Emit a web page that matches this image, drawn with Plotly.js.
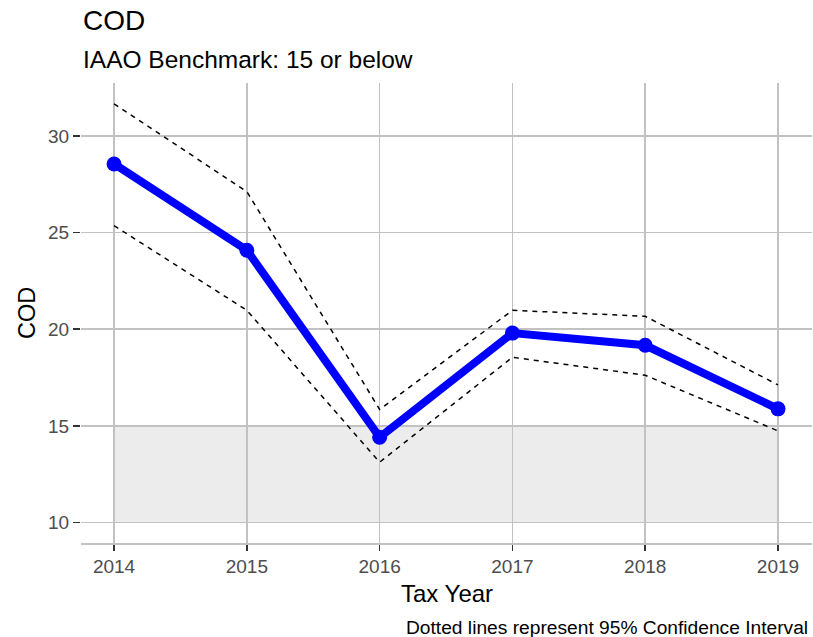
<!DOCTYPE html>
<html>
<head>
<meta charset="utf-8">
<script src="https://cdn.plot.ly/plotly-3.0.1.min.js"></script>
<style>html,body{margin:0;padding:0;background:#fff;}#chart{width:813px;height:637px;}</style>
</head>
<body>
<div id="chart"></div>
<script>
const years = [2014, 2015, 2016, 2017, 2018, 2019];
const cod = [28.55, 24.09, 14.41, 19.8, 19.17, 15.88];
const upperCI = [31.66, 27.12, 15.85, 20.98, 20.67, 17.12];
const lowerCI = [25.36, 20.98, 13.12, 18.55, 17.62, 14.74];
const benchmarkLow = 10;
const benchmarkHigh = 15;
const yTicks = [10, 15, 20, 25, 30];

const font = "Liberation Sans, Arial, sans-serif";

const traces = [
  {x: years, y: upperCI, mode: "lines", line: {color: "#000", width: 1.5, dash: "5px,5px"}, hoverinfo: "skip", showlegend: false},
  {x: years, y: lowerCI, mode: "lines", line: {color: "#000", width: 1.5, dash: "5px,5px"}, hoverinfo: "skip", showlegend: false},
  {x: years, y: cod, mode: "lines+markers", line: {color: "#0000ff", width: 8}, marker: {color: "#0000ff", size: 15}, showlegend: false}
];

const layout = {
  width: 813, height: 637,
  margin: {l: 81, r: 1, t: 83, b: 94},
  paper_bgcolor: "#fff", plot_bgcolor: "#fff",
  font: {family: font},
  showlegend: false,
  xaxis: {
    range: [2013.751, 2019.256], tickvals: years, ticktext: years.map(String),
    showgrid: true, gridcolor: "#c2c2c2", gridwidth: 1.5, zeroline: false,
    showline: true, linecolor: "#c2c2c2", linewidth: 1.5,
    ticks: "outside", ticklen: 6, tickwidth: 1.5, tickcolor: "#333",
    tickfont: {size: 19, color: "#4d4d4d", family: font}
  },
  yaxis: {
    range: [8.94, 32.74], tickvals: yTicks,
    showgrid: true, gridcolor: "#c2c2c2", gridwidth: 1.5, zeroline: false,
    showline: false,
    ticks: "outside", ticklen: 7, tickwidth: 1.5, tickcolor: "#333",
    tickfont: {size: 19, color: "#4d4d4d", family: font}
  },
  shapes: [{
    type: "rect", xref: "x", yref: "y", layer: "below",
    x0: years[0], x1: years[years.length - 1], y0: benchmarkLow, y1: benchmarkHigh,
    fillcolor: "#ececec", line: {width: 0}
  }],
  annotations: [
    {text: "COD", xref: "paper", yref: "paper", x: 0, y: 1.135, xanchor: "left", yanchor: "middle", showarrow: false, font: {size: 28, color: "#000", family: font}},
    {text: "IAAO Benchmark: 15 or below", xref: "paper", yref: "paper", x: 0, y: 1.05, xanchor: "left", yanchor: "middle", showarrow: false, font: {size: 24.5, color: "#000", family: font}},
    {text: "COD", xref: "paper", yref: "paper", x: -0.074, y: 0.5, xanchor: "center", yanchor: "middle", textangle: -90, showarrow: false, font: {size: 23.5, color: "#000", family: font}},
    {text: "Tax Year", xref: "paper", yref: "paper", x: 0.5, y: -0.109, xanchor: "center", yanchor: "middle", showarrow: false, font: {size: 24, color: "#000", family: font}},
    {text: "Dotted lines represent 95% Confidence Interval", xref: "paper", yref: "paper", x: 0.9973, y: -0.183, xanchor: "right", yanchor: "middle", showarrow: false, font: {size: 19.2, color: "#000", family: font}}
  ]
};

Plotly.newPlot("chart", traces, layout, {displayModeBar: false, staticPlot: true});
</script>
</body>
</html>
